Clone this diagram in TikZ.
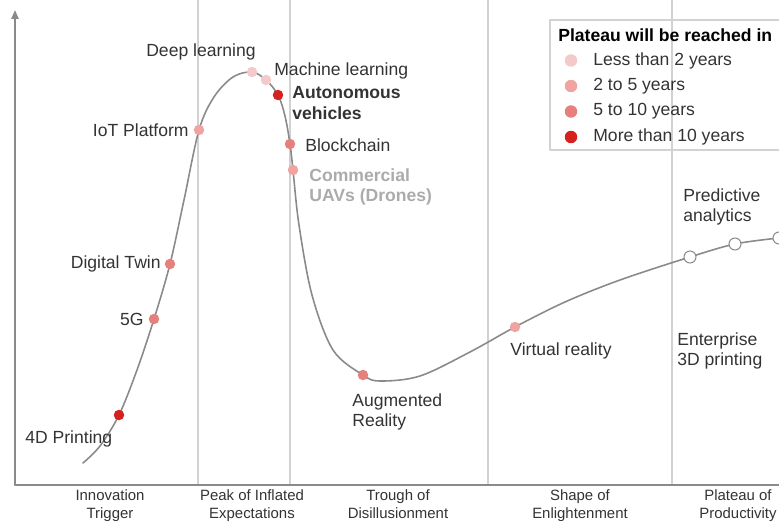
\documentclass[tikz,border=0pt]{standalone}
\usepackage{fontspec}
\setmainfont{Liberation Sans}
\usetikzlibrary{positioning,arrows.meta}
\definecolor{lessTwo}{HTML}{F3C9C9}
\definecolor{twoFive}{HTML}{EFA4A2}
\definecolor{fiveTen}{HTML}{E5807C}
\definecolor{moreTen}{HTML}{D7211F}
\definecolor{gridgray}{HTML}{D2D2D2}
\definecolor{axisgray}{HTML}{8A8A8A}
\definecolor{txtgray}{HTML}{333333}
\definecolor{uavgray}{HTML}{ABABAB}

\begin{document}
\begin{tikzpicture}[x=0.02cm, y=-0.02cm, line join=round, line cap=round,
    font=\fontsize{10}{11.5}\selectfont, text=txtgray,
    dot/.style={circle, inner sep=0pt, minimum size=0.21cm, fill=#1},
    ring/.style={circle, inner sep=0pt, minimum size=0.24cm, draw=axisgray, fill=white, line width=0.6pt},
    lbl/.style={inner sep=0pt, align=left},
    phase/.style={inner sep=0pt, align=center, anchor=north, font=\fontsize{8.5}{10.3}\selectfont}]
    \useasboundingbox (0,0) rectangle (779,524);
    % phase dividers
    \draw[gridgray, line width=0.6pt]
        (198,0) -- (198,485)
        (290,0) -- (290,485)
        (488,0) -- (488,485)
        (672,0) -- (672,485);
    % axes
    \draw[axisgray, line width=1.1pt, -{Triangle[length=5pt,width=4pt]}] (15,485) -- (15,10);
    \draw[axisgray, line width=1.1pt] (15,485) -- (779,485);
    % hype curve
    \draw[axisgray, line width=0.9pt] plot[smooth, tension=0.55] coordinates {
        (83,463) (100,446) (119,415) (137,370) (154,319) (170,264) (184,200)
        (199,130) (214,97) (233,77) (252,72) (266,80) (278,95) (285,116)
        (290,144) (293,170) (299,225) (312,295) (333,350) (363,375) (380,381)
        (420,376) (470,352) (515,327) (565,302) (620,280) (690,257) (735,244) (779,238)};
    % technologies on the curve
    \node[dot=moreTen] (printing) at (119,415) {};
    \node[dot=fiveTen] (fiveg) at (154,319) {};
    \node[dot=fiveTen] (twin) at (170,264) {};
    \node[dot=twoFive] (iot) at (199,130) {};
    \node[dot=lessTwo] (deep) at (252,72) {};
    \node[dot=lessTwo] (ml) at (266,80) {};
    \node[dot=moreTen] (auto) at (278,95) {};
    \node[dot=fiveTen] (chain) at (290,144) {};
    \node[dot=twoFive] (uav) at (293,170) {};
    \node[dot=fiveTen] (ar) at (363,375) {};
    \node[dot=twoFive] (vr) at (515,327) {};
    \node[ring] (predA) at (690,257) {};
    \node[ring] (predB) at (735,244) {};
    \node[ring] (predC) at (779,238) {};
    % their names
    \node[lbl] (deeplbl) at (201,52) {Deep learning};
    \node[lbl, anchor=west] (mllbl) at (274,71) {Machine learning};
    \node[lbl, anchor=west, font=\fontsize{10}{11.5}\selectfont\bfseries] (autolbl) at (292,103) {Autonomous\\vehicles};
    \node[lbl, anchor=west] (chainlbl) at (305,145) {Blockchain};
    \node[lbl, anchor=west, text=uavgray, font=\fontsize{10}{11.5}\selectfont\bfseries] (uavlbl) at (309,187) {Commercial\\UAVs (Drones)};
    \node[lbl, anchor=east] (iotlbl) at (189,130) {IoT Platform};
    \node[lbl, anchor=east] (twinlbl) at (161,264) {Digital Twin};
    \node[lbl, anchor=east] (fiveglbl) at (144,319) {5G};
    \node[lbl, anchor=west] (printinglbl) at (25,439) {4D Printing};
    \node[lbl, anchor=west] (arlbl) at (352,412) {Augmented\\Reality};
    \node[lbl, anchor=west] (vrlbl) at (510,351) {Virtual reality};
    \node[lbl, anchor=west] (predlbl) at (683,207) {Predictive\\analytics};
    \node[lbl, anchor=west] (entlbl) at (677,351) {Enterprise\\3D printing};
    % phases along the time axis
    \node[phase] (trigger) at (110,489) {Innovation\\Trigger};
    \node[phase] (peak) at (252,489) {Peak of Inflated\\Expectations};
    \node[phase] (trough) at (398,489) {Trough of\\Disillusionment};
    \node[phase] (slope) at (580,489) {Shape of\\Enlightenment};
    \node[phase] (plateau) at (738,489) {Plateau of\\Productivity};
    % legend
    \draw[gridgray, line width=0.8pt] (779,20) -- (550,20) -- (550,150) -- (779,150);
    \node[lbl, anchor=west, font=\fontsize{10}{11.5}\selectfont\bfseries, text=black] (legtitle) at (558,35) {Plateau will be reached in};
    \foreach \c/\t [count=\i] in {lessTwo/Less than 2 years, twoFive/2 to 5 years, fiveTen/5 to 10 years, moreTen/More than 10 years}{
        \node[dot=\c, minimum size=0.25cm] (leg\i) at (571,35+25.5*\i) {};
        \node[lbl, anchor=west] (legtxt\i) at (593,35+25.5*\i) {\t};
    }
\end{tikzpicture}
\end{document}
